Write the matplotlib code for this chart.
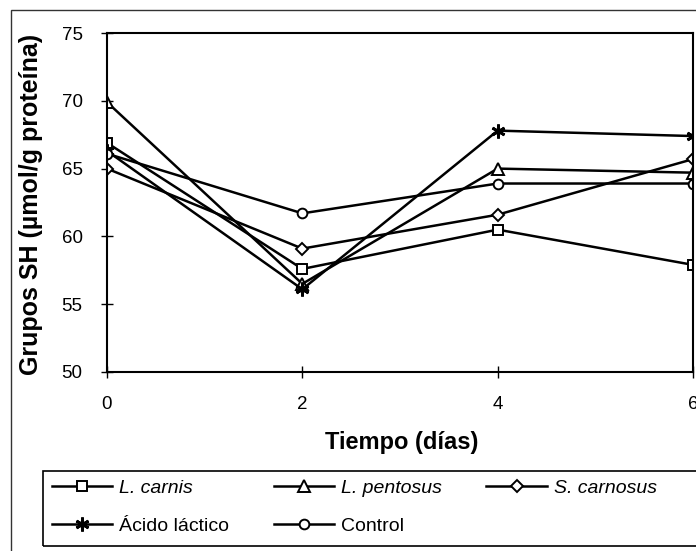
"""
Grupos SH frente al tiempo de maduración (recreación del gráfico).
"""

import matplotlib
matplotlib.use("Agg")
import matplotlib.pyplot as plt
from matplotlib.patches import Rectangle

plt.rcParams['font.family'] = ['Liberation Sans', 'DejaVu Sans']

# Datos
dias = [0, 2, 4, 6]
l_carnis = [66.9, 57.6, 60.5, 57.9]
l_pentosus = [69.9, 56.5, 65.0, 64.7]
s_carnosus = [65.0, 59.1, 61.6, 65.7]
acido_lactico = [66.3, 56.1, 67.8, 67.4]
control = [66.1, 61.7, 63.9, 63.9]

y_ticks = [50, 55, 60, 65, 70, 75]
x_ticks = [0, 2, 4, 6]

W, H = 696, 551
fig = plt.figure(figsize=(W / 100, H / 100), dpi=100)

# Marcos exteriores (el gráfico está recortado a la derecha)
fig.patches.append(Rectangle((11 / W, -0.1), 1.2, (H - 10) / H + 0.1,
                             transform=fig.transFigure, fill=False,
                             edgecolor='#333333', linewidth=1.0))
fig.patches.append(Rectangle((43 / W, 5 / H), 1.2, 75 / H,
                             transform=fig.transFigure, fill=False,
                             edgecolor='black', linewidth=1.2))

ax = fig.add_axes([107 / W, (H - 372) / H, 586 / W, 339 / H])

estilo = dict(color='black', linewidth=1.8, markerfacecolor='white',
              markeredgecolor='black', markeredgewidth=1.4)

h1, = ax.plot(dias, l_carnis, marker='s', markersize=6.5, **estilo)
h2, = ax.plot(dias, l_pentosus, marker='^', markersize=8.5, **estilo)
h3, = ax.plot(dias, s_carnosus, marker='D', markersize=6.5, **estilo)
h4, = ax.plot(dias, acido_lactico, marker=(6, 2, 0), markersize=10,
              color='black', linewidth=1.8, markeredgewidth=2.0)
h5, = ax.plot(dias, control, marker='o', markersize=7, **estilo)

ax.set_xlim(0, 6)
ax.set_ylim(50, 75)
ax.set_xticks(x_ticks)
ax.set_yticks(y_ticks)
ax.tick_params(axis='both', direction='inout', length=9, width=1,
               labelsize=13.5, pad=13)
for s in ax.spines.values():
    s.set_linewidth(1.5)

fig.text(31 / W, 1 - 204 / H, 'Grupos SH (µmol/g proteína)', rotation=90,
         ha='center', va='center', fontsize=18, fontweight='bold')
fig.text(402 / W, 1 - 442 / H, 'Tiempo (días)', ha='center', va='center',
         fontsize=17, fontweight='bold')

handles = [h1, h4, h2, h5, h3]
labels = ['L. carnis', 'Ácido láctico', 'L. pentosus', 'Control',
          'S. carnosus']
leg = fig.legend(handles, labels, loc='upper left',
                 bbox_to_anchor=(52 / W, 1 - 479 / H),
                 bbox_transform=fig.transFigure, ncol=3, frameon=False,
                 borderpad=0, borderaxespad=0, handlelength=3.1,
                 handletextpad=0.35, columnspacing=2.3, labelspacing=1.05,
                 fontsize=14)
for t in leg.get_texts():
    if t.get_text() in ('L. carnis', 'L. pentosus', 'S. carnosus'):
        t.set_fontstyle('italic')

fig.savefig('out.png', dpi=100)
